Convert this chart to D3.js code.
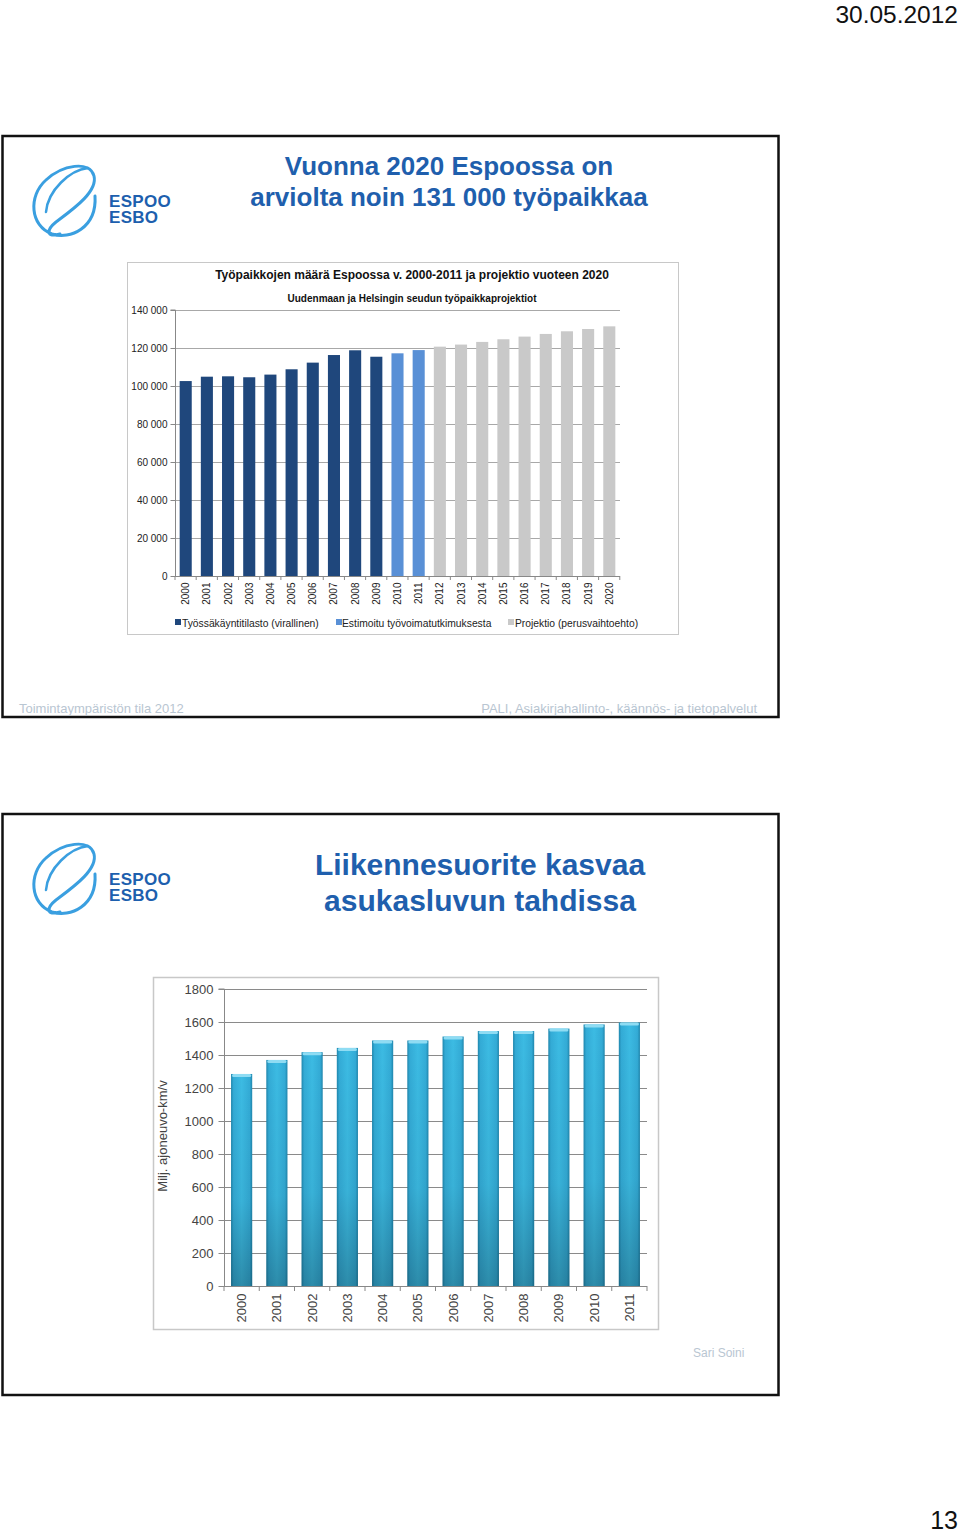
<!DOCTYPE html>
<html><head><meta charset="utf-8">
<script src="https://cdn.jsdelivr.net/npm/d3@7"></script>
<style>
body{margin:0;background:#fff;}
svg{display:block;font-family:"Liberation Sans",Arial,sans-serif;}
</style></head>
<body>
<script>
// ---------- DATA ----------
const jobYears = ["2000","2001","2002","2003","2004","2005","2006","2007","2008","2009","2010","2011","2012","2013","2014","2015","2016","2017","2018","2019","2020"];
const jobValues = [102600,104900,105100,104600,106000,108800,112300,116300,118800,115400,117200,118900,120700,121800,123200,124600,126000,127400,128800,130000,131400];
const jobSeries = ["off","off","off","off","off","off","off","off","off","off","est","est","proj","proj","proj","proj","proj","proj","proj","proj","proj"];
const jobSeriesNames = ["Työssäkäyntitilasto (virallinen)","Estimoitu työvoimatutkimuksesta","Projektio (perusvaihtoehto)"];
const jobSeriesKeys = ["off","est","proj"];
const jobTicks = [0,20000,40000,60000,80000,100000,120000,140000];

const trafficYears = ["2000","2001","2002","2003","2004","2005","2006","2007","2008","2009","2010","2011"];
const trafficValues = [1285,1370,1417,1443,1488,1488,1512,1545,1545,1560,1585,1597];
const trafficTicks = [0,200,400,600,800,1000,1200,1400,1600,1800];

const W = 960, H = 1534;
const svg = d3.select("body").append("svg").attr("width", W).attr("height", H);

const defs = svg.append("defs");
const g1 = defs.append("linearGradient").attr("id","barH").attr("x1",0).attr("x2",1).attr("y1",0).attr("y2",0);
[[0,"#1f86ad"],[0.12,"#33abd6"],[0.5,"#3cbbe3"],[0.88,"#33abd6"],[1,"#1f86ad"]].forEach(s=>g1.append("stop").attr("offset",s[0]).attr("stop-color",s[1]));
const g2 = defs.append("linearGradient").attr("id","barV").attr("x1",0).attr("x2",0).attr("y1",0).attr("y2",1);
[[0,"#000",0],[0.6,"#000",0.05],[1,"#000",0.25]].forEach(s=>g2.append("stop").attr("offset",s[0]).attr("stop-color",s[1]).attr("stop-opacity",s[2]));

const fi = d3.formatLocale({decimal:",",thousands:"\u00a0",grouping:[3],currency:["",""]});
const fmt = fi.format(",");

// ---------- header texts ----------
svg.append("text").attr("x",958).attr("y",23).attr("text-anchor","end").attr("font-size",24.5).attr("fill","#111").text("30.05.2012");
svg.append("text").attr("x",958).attr("y",1529).attr("text-anchor","end").attr("font-size",25).attr("fill","#111").text("13");

// ---------- slide frames ----------
function frame(y0,y1){
  svg.append("rect").attr("x",2.5).attr("y",y0).attr("width",776).attr("height",y1-y0).attr("fill","#fff").attr("stroke","#111").attr("stroke-width",2.5);
}
frame(136,717);
frame(814,1395);

function logo(dy){
  const g = svg.append("g").attr("transform",`translate(0,${dy})`);
  g.append("path").attr("d","M 95,196 C 97,228 70,240 52,234 C 30,226 28,196 46,180 C 62,165 90,160 94,176 C 98,192 72,210 56,222 C 46,230 46,238 60,234")
    .attr("fill","none").attr("stroke","#3a9fe0").attr("stroke-width",3).attr("stroke-linecap","round");
  g.append("path").attr("d","M 88,168 C 70,170 48,190 46,212")
    .attr("fill","none").attr("stroke","#3a9fe0").attr("stroke-width",2.5).attr("stroke-linecap","round");
  const t = g.append("text").attr("font-size",17).attr("font-weight","bold").attr("fill","#1d5fae").attr("font-family","Liberation Sans, Arial, sans-serif").attr("letter-spacing",0.3);
  t.append("tspan").attr("x",109).attr("y",207).text("ESPOO");
  t.append("tspan").attr("x",109).attr("y",223).text("ESBO");
}
logo(0);
logo(678);

// slide titles
const tcol = "#1f5fad";
svg.append("text").attr("x",449).attr("y",175).attr("text-anchor","middle").attr("font-size",26).attr("font-weight","bold").attr("fill",tcol).text("Vuonna 2020 Espoossa on");
svg.append("text").attr("x",449).attr("y",206).attr("text-anchor","middle").attr("font-size",26).attr("font-weight","bold").attr("fill",tcol).text("arviolta noin 131 000 työpaikkaa");
svg.append("text").attr("x",480).attr("y",875).attr("text-anchor","middle").attr("font-size",30).attr("font-weight","bold").attr("fill",tcol).text("Liikennesuorite kasvaa");
svg.append("text").attr("x",480).attr("y",911).attr("text-anchor","middle").attr("font-size",30).attr("font-weight","bold").attr("fill",tcol).text("asukasluvun tahdissa");

// footers
const fcol = "#b9c6d2";
svg.append("text").attr("x",19).attr("y",713).attr("font-size",13).attr("fill",fcol).text("Toimintaympäristön tila 2012");
svg.append("text").attr("x",757).attr("y",713).attr("text-anchor","end").attr("font-size",13).attr("fill",fcol).text("PALI, Asiakirjahallinto-, käännös- ja tietopalvelut");
svg.append("text").attr("x",693).attr("y",1357).attr("font-size",12).attr("fill",fcol).text("Sari Soini");

// ---------- CHART 1 ----------
svg.append("rect").attr("x",127.5).attr("y",262.5).attr("width",551).attr("height",372).attr("fill","#fff").attr("stroke","#c8c8c8");
svg.append("text").attr("x",412).attr("y",279).attr("text-anchor","middle").attr("font-size",12).attr("font-weight","bold").attr("fill","#111").text("Työpaikkojen määrä Espoossa v. 2000-2011 ja projektio vuoteen 2020");
svg.append("text").attr("x",412).attr("y",302).attr("text-anchor","middle").attr("font-size",10).attr("font-weight","bold").attr("fill","#111").text("Uudenmaan ja Helsingin seudun työpaikkaprojektiot");

const c1 = {l:175, r:620, t:310, b:576};
const x1 = d3.scaleBand().domain(jobYears).range([c1.l,c1.r]).paddingInner(0.43).paddingOuter(0.22);
const y1 = d3.scaleLinear().domain([0,140000]).range([c1.b,c1.t]);
const col1 = {off:"#1f477c", est:"#5990d6", proj:"#c9c9c9"};

svg.append("g").selectAll("line").data(jobTicks.filter(d=>d>0)).join("line")
  .attr("x1",c1.l).attr("x2",c1.r).attr("y1",d=>Math.round(y1(d))+0.5).attr("y2",d=>Math.round(y1(d))+0.5)
  .attr("stroke","#a8a8a8");

svg.append("g").selectAll("rect").data(jobYears).join("rect")
  .attr("x",d=>x1(d)).attr("width",x1.bandwidth())
  .attr("y",(d,i)=>y1(jobValues[i])).attr("height",(d,i)=>c1.b-y1(jobValues[i]))
  .attr("fill",(d,i)=>col1[jobSeries[i]]);

const ya1 = svg.append("g").attr("transform",`translate(${c1.l+0.5},0)`)
  .call(d3.axisLeft(y1).tickValues(jobTicks).tickFormat(fmt).tickSize(5).tickPadding(3));
ya1.select(".domain").attr("stroke","#888").attr("d",`M-5,${c1.t}H0V${c1.b}`);
ya1.selectAll(".tick line").attr("stroke","#888");
ya1.selectAll(".tick text").attr("font-size",10).attr("fill","#222").attr("font-family","Liberation Sans, Arial");

const xa1 = svg.append("g").attr("transform",`translate(0,${c1.b+0.5})`)
  .call(d3.axisBottom(x1).tickSize(0).tickPadding(6));
xa1.select(".domain").attr("stroke","#888").attr("d",`M${c1.l},0H${c1.r}`);
xa1.selectAll(".tick text").attr("font-size",10).attr("fill","#222").attr("font-family","Liberation Sans, Arial")
  .attr("transform","rotate(-90)").attr("text-anchor","end").attr("dy","0.35em").attr("x",-6).attr("y",0);
svg.append("g").selectAll("line").data(d3.range(jobYears.length+1)).join("line")
  .attr("x1",i=>c1.l + i*x1.step()).attr("x2",i=>c1.l + i*x1.step())
  .attr("y1",c1.b).attr("y2",c1.b+4).attr("stroke","#888");

const leg1 = [{x:175,tx:182},{x:336,tx:342},{x:508,tx:515}];
jobSeriesKeys.forEach((k,i)=>{
  svg.append("rect").attr("x",leg1[i].x).attr("y",619).attr("width",6).attr("height",6).attr("fill",col1[k]);
  svg.append("text").attr("x",leg1[i].tx).attr("y",627).attr("font-size",10.3).attr("fill","#222").text(jobSeriesNames[i]);
});

// ---------- CHART 2 ----------
svg.append("rect").attr("x",153.5).attr("y",977.5).attr("width",505).attr("height",352).attr("fill","#fff").attr("stroke","#c8c8c8").attr("stroke-width",1.5);
const c2 = {l:224, r:647, t:989, b:1286};
const x2 = d3.scaleBand().domain(trafficYears).range([c2.l,c2.r]).paddingInner(0.4).paddingOuter(0.2);
const y2 = d3.scaleLinear().domain([0,1800]).range([c2.b,c2.t]);

svg.append("g").selectAll("line").data(trafficTicks.filter(d=>d>0)).join("line")
  .attr("x1",c2.l).attr("x2",c2.r).attr("y1",d=>Math.round(y2(d))+0.5).attr("y2",d=>Math.round(y2(d))+0.5)
  .attr("stroke","#8a8a8a");

const bars2 = svg.append("g").selectAll("g").data(trafficYears).join("g");
bars2.append("rect").attr("x",d=>x2(d)).attr("width",x2.bandwidth())
  .attr("y",(d,i)=>y2(trafficValues[i])).attr("height",(d,i)=>c2.b-y2(trafficValues[i]))
  .attr("fill","url(#barH)");
bars2.append("rect").attr("x",d=>x2(d)).attr("width",x2.bandwidth())
  .attr("y",(d,i)=>y2(trafficValues[i])).attr("height",(d,i)=>c2.b-y2(trafficValues[i]))
  .attr("fill","url(#barV)");
bars2.append("rect").attr("x",d=>x2(d)+1).attr("width",x2.bandwidth()-2)
  .attr("y",(d,i)=>y2(trafficValues[i])).attr("height",3)
  .attr("fill","#8fdcf3").attr("rx",1.5);

const ya2 = svg.append("g").attr("transform",`translate(${c2.l+0.5},0)`)
  .call(d3.axisLeft(y2).tickValues(trafficTicks).tickSize(6).tickPadding(5).tickFormat(d3.format("d")));
ya2.select(".domain").attr("stroke","#888").attr("d",`M-6,${c2.t}H0V${c2.b}`);
ya2.selectAll(".tick line").attr("stroke","#888");
ya2.selectAll(".tick text").attr("font-size",13).attr("fill","#444").attr("font-family","Liberation Sans, Arial");

const xa2 = svg.append("g").attr("transform",`translate(0,${c2.b+0.5})`)
  .call(d3.axisBottom(x2).tickSize(0).tickPadding(6));
xa2.select(".domain").attr("stroke","#888").attr("d",`M${c2.l},0H${c2.r}`);
xa2.selectAll(".tick text").attr("font-size",13).attr("fill","#444").attr("font-family","Liberation Sans, Arial")
  .attr("transform","rotate(-90)").attr("text-anchor","end").attr("dy","0.35em").attr("x",-7).attr("y",0);
svg.append("g").selectAll("line").data(d3.range(trafficYears.length+1)).join("line")
  .attr("x1",i=>c2.l + i*x2.step()).attr("x2",i=>c2.l + i*x2.step())
  .attr("y1",c2.b).attr("y2",c2.b+5).attr("stroke","#888");

svg.append("text").attr("transform","translate(167,1136) rotate(-90)").attr("text-anchor","middle")
  .attr("font-size",13).attr("fill","#444").text("Milj. ajoneuvo-km/v");
</script>
</body></html>
